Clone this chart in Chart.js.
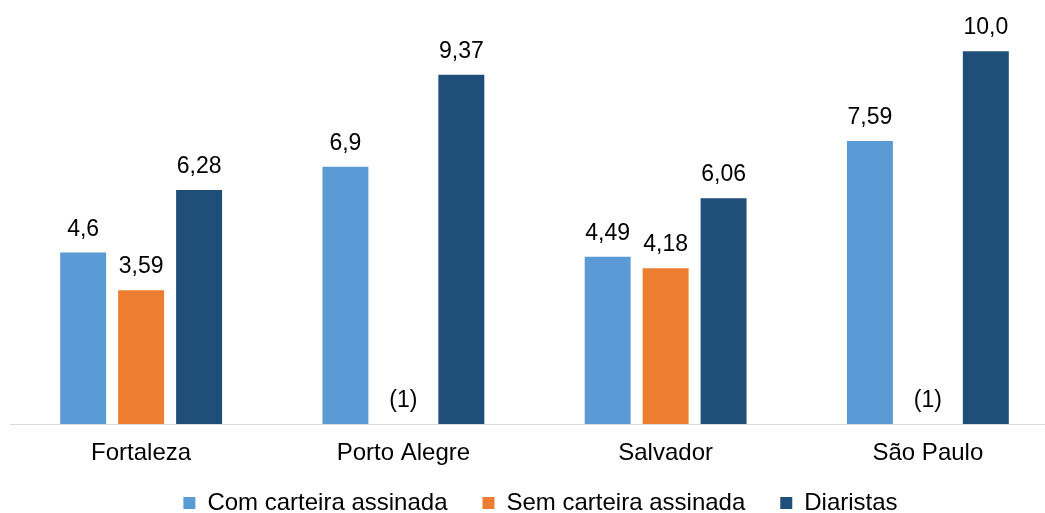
<!DOCTYPE html>
<html>
<head>
<meta charset="utf-8">
<script src="https://cdn.jsdelivr.net/npm/chart.js@4/dist/chart.umd.min.js"></script>
<style>
html,body{margin:0;padding:0;background:#fff;overflow:hidden;width:1045px;height:513px;}
#wrap{position:absolute;left:0;top:0;width:1060px;height:513px;}
</style>
</head>
<body>
<div id="wrap"><canvas id="c"></canvas></div>
<script>
const categories = ['Fortaleza', 'Porto Alegre', 'Salvador', 'São Paulo'];
const comCarteira = [4.6, 6.9, 4.49, 7.59];
const semCarteira = [3.59, null, 4.18, null];
const diaristas = [6.28, 9.37, 6.06, 10.0];
const comLabels = ['4,6', '6,9', '4,49', '7,59'];
const semLabels = ['3,59', '(1)', '4,18', '(1)'];
const diaLabels = ['6,28', '9,37', '6,06', '10,0'];
const seriesNames = ['Com carteira assinada', 'Sem carteira assinada', 'Diaristas'];

const FONT = '"Liberation Sans", Arial, sans-serif';
const LEGEND_PAD = 35;

const valueLabels = {
  id: 'valueLabels',
  afterDatasetsDraw(chart) {
    const ctx = chart.ctx;
    const y0 = chart.scales.y.getPixelForValue(0);
    ctx.save();
    ctx.font = '23px ' + FONT;
    ctx.fillStyle = '#000';
    ctx.textAlign = 'center';
    ctx.textBaseline = 'alphabetic';
    chart.data.datasets.forEach((ds, di) => {
      const meta = chart.getDatasetMeta(di);
      meta.data.forEach((bar, i) => {
        const v = ds.data[i];
        const top = (v == null) ? y0 : bar.y;
        let x = bar.x;
        if (!isFinite(x)) x = chart.scales.x.getPixelForValue(i) + (di - 1) * 58;
        ctx.fillText(ds.valueText[i], x, top - 17);
      });
    });
    ctx.restore();
  }
};

const legendShift = {
  id: 'legendShift',
  afterLayout(chart) {
    const lg = chart.legend;
    if (!lg) return;
    const dy = 503 - (lg.top + LEGEND_PAD + 12);
    const dx = 6;
    lg.top += dy; lg.bottom += dy;
    lg.left += dx; lg.right += dx;
  }
};

new Chart(document.getElementById('c'), {
  type: 'bar',
  data: {
    labels: categories,
    datasets: [
      { label: seriesNames[0], data: comCarteira, valueText: comLabels, backgroundColor: '#5B9BD5' },
      { label: seriesNames[1], data: semCarteira, valueText: semLabels, backgroundColor: '#ED7D31' },
      { label: seriesNames[2], data: diaristas, valueText: diaLabels, backgroundColor: '#1F4E79' }
    ]
  },
  options: {
    responsive: true,
    maintainAspectRatio: false,
    animation: false,
    datasets: { bar: { categoryPercentage: 0.663, barPercentage: 0.793 } },
    layout: { padding: { top: 14, left: 10, right: 1, bottom: -38.8 } },
    scales: {
      x: {
        grid: { display: false, drawTicks: false },
        border: { display: true, color: '#D9D9D9', width: 1 },
        ticks: { color: '#000', font: { family: FONT, size: 24 }, padding: 15 }
      },
      y: { display: false, min: 0, max: 11 }
    },
    plugins: {
      legend: {
        position: 'bottom',
        labels: { boxWidth: 12, boxHeight: 12, padding: LEGEND_PAD, color: '#000', font: { family: FONT, size: 24 } }
      },
      tooltip: { enabled: false }
    }
  },
  plugins: [valueLabels, legendShift]
});
</script>
</body>
</html>
